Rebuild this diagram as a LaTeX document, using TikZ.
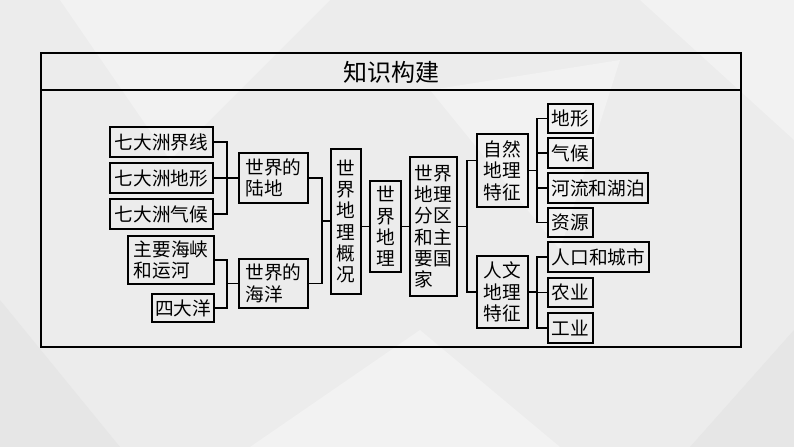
\documentclass[tikz,border=0pt]{standalone}
\usepackage{fontspec}
\setmainfont{Noto Sans CJK SC}
\definecolor{slidebg}{RGB}{236,236,236}
\definecolor{slidelight}{RGB}{242,242,242}
\definecolor{slidedark}{RGB}{230,230,230}

\begin{document}
\begin{tikzpicture}[x=0.75pt,y=-0.75pt,
        box/.style={rectangle,draw=black,line width=1.4pt,inner sep=0pt,
          align=left,font=\fontsize{14pt}{16pt}\selectfont},
        link/.style={line width=1pt},
        frame/.style={line width=1pt}]
        \fill[slidebg] (0,0) rectangle (794,447);
        \fill[slidelight] (60,0) -- (330,0) -- (170,160) -- cycle;
        \fill[slidelight] (640,0) -- (794,0) -- (794,140) -- cycle;
        \fill[slidelight] (430,90) -- (620,60) -- (560,250) -- cycle;
        \fill[slidedark] (0,300) -- (120,447) -- (0,447) -- cycle;
        \fill[slidedark] (690,447) -- (794,330) -- (794,447) -- cycle;
        \fill[slidelight] (250,447) -- (420,330) -- (560,447) -- cycle;
        \useasboundingbox (0,0) rectangle (794,447);
        \draw[frame] (41,53) rectangle (741,347);
        \draw[frame] (41,90) -- (741,90);
        \node[font=\fontsize{18pt}{20pt}\selectfont] (title) at (391,72) {知识构建};
        \node[box,minimum width=77.25pt,minimum height=22.5pt,align=center] (lineA) at (161.5,142) {七大洲界线};
        \node[box,minimum width=77.25pt,minimum height=22.5pt,align=center] (terrA) at (161.5,178) {七大洲地形};
        \node[box,minimum width=77.25pt,minimum height=22.5pt,align=center] (climA) at (161.5,214) {七大洲气候};
        \node[box,minimum width=64.5pt,minimum height=36pt] (strait) at (171,260) {主要海峡\\和运河};
        \node[box,minimum width=46.5pt,minimum height=21pt,align=center] (ocean) at (183,308) {四大洋};
        \node[box,minimum width=51.75pt,minimum height=37.5pt] (land) at (273.5,178) {世界的\\陆地};
        \node[box,minimum width=51.75pt,minimum height=36.75pt] (sea) at (273.5,283.5) {世界的\\海洋};
        \node[box,minimum width=22.5pt,minimum height=108.75pt] (overview) at (346,221.5) {世\\界\\地\\理\\概\\况};
        \node[box,minimum width=23.25pt,minimum height=68.25pt] (world) at (385.5,226.5) {世\\界\\地\\理};
        \node[box,minimum width=35.25pt,minimum height=104.25pt] (region) at (433.5,226.5) {世界\\地理\\分区\\和主\\要国\\家};
        \node[box,minimum width=38.25pt,minimum height=54.75pt] (nature) at (502.5,170.5) {自然\\地理\\特征};
        \node[box,minimum width=38.25pt,minimum height=54pt] (human) at (502.5,292) {人文\\地理\\特征};
        \node[box,minimum width=33.75pt,minimum height=21.75pt,align=center] (relief) at (570.5,118.5) {地形};
        \node[box,minimum width=33.75pt,minimum height=22.5pt,align=center] (weather) at (570.5,153) {气候};
        \node[box,minimum width=75pt,minimum height=22.5pt,align=center] (river) at (598,188) {河流和湖泊};
        \node[box,minimum width=33.75pt,minimum height=21.75pt,align=center] (resource) at (570.5,222.5) {资源};
        \node[box,minimum width=75.75pt,minimum height=22.5pt,align=center] (city) at (598.5,257) {人口和城市};
        \node[box,minimum width=33.75pt,minimum height=21.75pt,align=center] (farm) at (570.5,292.5) {农业};
        \node[box,minimum width=33.75pt,minimum height=22.5pt,align=center] (industry) at (570.5,328) {工业};
        \coordinate (jLand) at (227,178);
        \coordinate (jSea) at (227,283.5);
        \coordinate (jOver) at (322,221);
        \coordinate (jRegion) at (467,226.5);
        \coordinate (jNat) at (537,170.5);
        \coordinate (jHum) at (537,292);
        \draw[link] (lineA.east) -| (jLand) |- (climA.east);
        \draw[link] (terrA.east) -- (land.west);
        \draw[link] (strait.east) -| (jSea) |- (ocean.east);
        \draw[link] (jSea) -- (sea.west);
        \draw[link] (land.east) -| (jOver) |- (sea.east);
        \draw[link] (jOver) -- (overview.west |- jOver);
        \draw[link] (overview.east |- world.west) -- (world.west);
        \draw[link] (world.east) -- (region.west);
        \draw[link] (region.east) -- (jRegion);
        \draw[link] ([yshift=7.5pt]nature.west) -| (jRegion) |- (human.west);
        \draw[link] (nature.east) -- (jNat);
        \draw[link] (relief.west) -| (jNat) |- (resource.west);
        \draw[link] (weather.west) -- (weather.west -| jNat);
        \draw[link] (river.west) -- (river.west -| jNat);
        \draw[link] (human.east) -- (jHum);
        \draw[link] (city.west) -| (jHum) |- (industry.west);
        \draw[link] (farm.west) -- (farm.west -| jHum);
      \end{tikzpicture}
\end{document}
